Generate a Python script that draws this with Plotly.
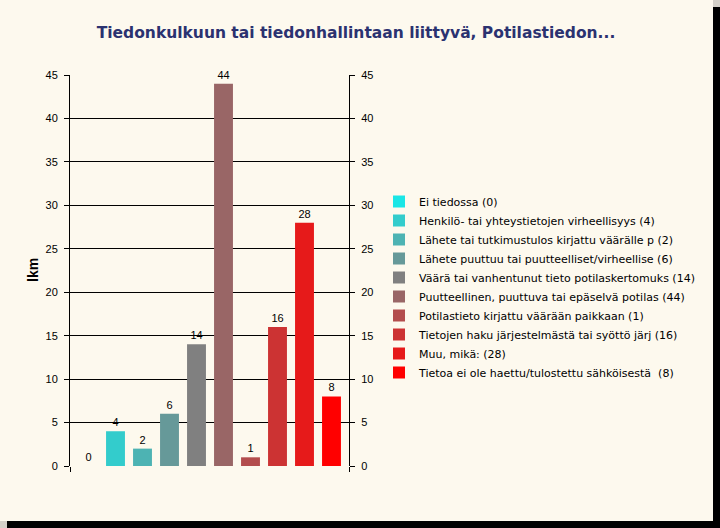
import plotly.graph_objects as go

categories = [
    "Ei tiedossa (0)",
    "Henkilö- tai yhteystietojen virheellisyys (4)",
    "Lähete tai tutkimustulos kirjattu väärälle p (2)",
    "Lähete puuttuu tai puutteelliset/virheellise (6)",
    "Väärä tai vanhentunut tieto potilaskertomuks (14)",
    "Puutteellinen, puuttuva tai epäselvä potilas (44)",
    "Potilastieto kirjattu väärään paikkaan (1)",
    "Tietojen haku järjestelmästä tai syöttö järj (16)",
    "Muu, mikä: (28)",
    "Tietoa ei ole haettu/tulostettu sähköisestä  (8)",
]
values = [0, 4, 2, 6, 14, 44, 1, 16, 28, 8]
colors = ["#1AE6E6", "#33CCCC", "#4DB3B3", "#669999", "#808080",
          "#996666", "#B34D4D", "#CC3333", "#E61A1A", "#FF0000"]
y_ticks = [0, 5, 10, 15, 20, 25, 30, 35, 40, 45]

W, H = 720, 528
L, R, T, B = 70, 349, 75, 466
pw, ph = R - L, B - T

def px(x):
    return (x - L) / pw

def py(y):
    return (B - y) / ph

fig = go.Figure()
for i, (cat, v, c) in enumerate(zip(categories, values, colors)):
    fig.add_trace(go.Bar(
        x=[i], y=[v], name=cat, marker=dict(color=c, line=dict(width=0)),
        width=0.70, text=[str(v)], textposition="outside",
        textfont=dict(family="Liberation Sans, Arial", size=11, color="black"),
        cliponaxis=False,
    ))
fig.add_trace(go.Scatter(x=[0], y=[0], yaxis="y2", mode="markers",
                         marker=dict(opacity=0), showlegend=False, hoverinfo="skip"))

xr = [-0.5 - 5 / 27, 9.5 + 4 / 27]
fig.update_layout(
    width=W, height=H,
    margin=dict(l=L, r=W - R, t=T, b=H - B, pad=0),
    paper_bgcolor="#D4D0C8",
    plot_bgcolor="rgba(0,0,0,0)",
    barmode="overlay",
    font=dict(family="Liberation Sans, Arial", size=11, color="black"),
    title=dict(text="<b>Tiedonkulkuun tai tiedonhallintaan liittyvä, Potilastiedon...</b>",
               font=dict(family="DejaVu Sans", size=15.5, color="#2B3270"),
               xref="container", x=356 / W, xanchor="center",
               yref="container", y=1 - 33 / H, yanchor="middle"),
    xaxis=dict(range=xr, tickvals=xr, ticktext=["", ""], ticks="outside", ticklen=5,
               tickcolor="black", showgrid=False, zeroline=False, showline=False,
               fixedrange=True),
    yaxis=dict(range=[0, 45], tickvals=y_ticks, ticks="outside", ticklen=5,
               tickcolor="black", showline=True, linecolor="black", linewidth=1,
               showgrid=True, gridcolor="black", gridwidth=1, zeroline=False,
               tickfont=dict(size=11), ticklabelstandoff=4),
    yaxis2=dict(range=[0, 45], tickvals=y_ticks, overlaying="y", side="right",
                ticks="outside", ticklen=5, tickcolor="black", showline=True,
                linecolor="black", linewidth=1, showgrid=False, zeroline=False,
                tickfont=dict(size=11), ticklabelstandoff=4),
    legend=dict(x=px(379), y=py(187), xanchor="left", yanchor="top",
                bgcolor="rgba(0,0,0,0)",
                font=dict(family="DejaVu Sans", size=11, color="black"),
                tracegroupgap=0, itemsizing="constant"),
    showlegend=True,
)

fig.add_annotation(text="<b>lkm</b>", xref="paper", yref="paper",
                   x=px(33), y=py(270), xanchor="center", yanchor="middle",
                   textangle=-90, showarrow=False,
                   font=dict(family="Liberation Sans, Arial", size=14, color="black"))

# Background: cream panel with black drop shadow
fig.add_shape(type="rect", xref="paper", yref="paper", layer="below",
              x0=px(7), x1=px(720), y0=py(528), y1=py(7),
              fillcolor="black", line=dict(width=0))
fig.add_shape(type="rect", xref="paper", yref="paper", layer="below",
              x0=px(0), x1=px(713), y0=py(521), y1=py(0),
              fillcolor="#FDF9EE", line=dict(width=0))

fig.write_html("out.html", config={"displayModeBar": False},
               post_script="document.body.style.margin='0px';")
